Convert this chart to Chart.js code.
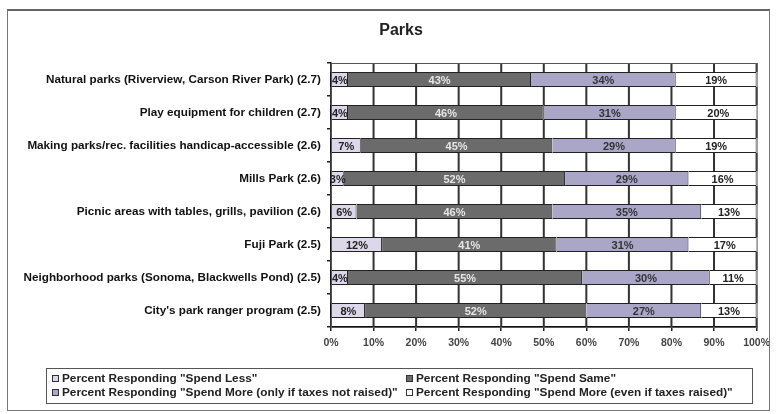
<!DOCTYPE html>
<html>
<head>
<meta charset="utf-8">
<script src="https://cdn.jsdelivr.net/npm/chart.js@4.4.1/dist/chart.umd.min.js"></script>
<style>
    body { margin: 0; background: #fff; }
    #wrap { position: relative; width: 776px; height: 414px; }
    #frame { position: absolute; left: 7px; top: 9px; width: 763px; height: 402px;
        border: 1px solid #777; border-top: 2px solid #666; box-sizing: border-box; }
    #legend { position: absolute; left: 46px; top: 368px; width: 707px; height: 36px;
        border: 1px solid #555; box-sizing: border-box; font: bold 11.8px "Liberation Sans", Arial, sans-serif;
        color: #222; }
    .item { position: absolute; white-space: nowrap; line-height: 14px; }
    .box { display: inline-block; width: 5px; height: 5px; border: 1px solid #333; margin-right: 3px; vertical-align: 0px; }
</style>
</head>
<body>
<div id="wrap">
    <div id="frame"></div>
    <canvas id="parksChart" width="776" height="414"></canvas>
    <div id="legend"></div>
</div>
<script>
// Chart data
const categories = [
    'Natural parks (Riverview, Carson River Park) (2.7)',
    'Play equipment for children (2.7)',
    'Making parks/rec. facilities handicap-accessible (2.6)',
    'Mills Park (2.6)',
    'Picnic areas with tables, grills, pavilion (2.6)',
    'Fuji Park (2.5)',
    'Neighborhood parks (Sonoma, Blackwells Pond) (2.5)',
    "City's park ranger program (2.5)"
];
const spendLess = [4, 4, 7, 3, 6, 12, 4, 8];
const spendSame = [43, 46, 45, 52, 46, 41, 55, 52];
const spendMoreNoTax = [34, 31, 29, 29, 35, 31, 30, 27];
const spendMoreTax = [19, 20, 19, 16, 13, 17, 11, 13];
const tickValues = [0, 10, 20, 30, 40, 50, 60, 70, 80, 90, 100];
const seriesNames = [
    'Percent Responding "Spend Less"',
    'Percent Responding "Spend Same"',
    'Percent Responding "Spend More (only if taxes not raised)"',
    'Percent Responding "Spend More (even if taxes raised)"'
];
const seriesColors = ['#dcd8ea', '#6b6b6b', '#a9a6c8', '#ffffff'];
const labelColors = ['#222', '#e6e6e6', '#333', '#222'];

const font = '"Liberation Sans", Arial, sans-serif';

// draws the title, grid (in the gaps between bars), plot border and the percent labels
const extras = {
    id: 'extras',
    afterDatasetsDraw(chart) {
        const ctx = chart.ctx;
        const area = chart.chartArea;
        const xs = chart.scales.x;
        const bars = chart.getDatasetMeta(0).data;
        ctx.save();

        ctx.strokeStyle = '#333';
        ctx.lineWidth = 2;
        tickValues.forEach(v => {
            const px = xs.getPixelForValue(v);
            let y0 = area.top;
            ctx.beginPath();
            bars.forEach(b => {
                const top = b.y - b.height / 2;
                ctx.moveTo(px, y0);
                ctx.lineTo(px, top);
                y0 = top + b.height;
            });
            ctx.moveTo(px, y0);
            ctx.lineTo(px, area.bottom);
            ctx.stroke();
        });

        ctx.strokeStyle = '#555';
        ctx.lineWidth = 1;
        ctx.strokeRect(area.left + 0.5, area.top + 0.5, area.right - area.left, area.bottom - area.top);

        ctx.font = 'bold 11px ' + font;
        ctx.textAlign = 'center';
        ctx.textBaseline = 'middle';
        chart.data.datasets.forEach((ds, i) => {
            chart.getDatasetMeta(i).data.forEach((bar, j) => {
                ctx.fillStyle = labelColors[i];
                ctx.fillText(ds.data[j] + '%', (bar.x + bar.base) / 2, bar.y + 1);
            });
        });

        ctx.fillStyle = '#222';
        ctx.font = 'bold 16px ' + font;
        ctx.fillText('Parks', 401, 31);
        ctx.restore();
    }
};

new Chart(document.getElementById('parksChart'), {
    type: 'bar',
    data: {
        labels: categories,
        datasets: [spendLess, spendSame, spendMoreNoTax, spendMoreTax].map((values, i) => ({
            label: seriesNames[i],
            data: values,
            backgroundColor: seriesColors[i],
            borderColor: '#222',
            borderWidth: 1,
            barPercentage: 0.46,
            categoryPercentage: 1
        }))
    },
    options: {
        indexAxis: 'y',
        responsive: false,
        animation: false,
        layout: { padding: { top: 63, right: 17, bottom: 57, left: 0 } },
        plugins: {
            legend: { display: false },
            tooltip: { enabled: false }
        },
        scales: {
            x: {
                stacked: true,
                min: 0,
                max: 100,
                afterFit: (scale) => { scale.height = 30; },
                ticks: {
                    stepSize: 10,
                    callback: (v) => v + '%',
                    color: '#444',
                    font: { family: font, size: 10.5, weight: 'bold' },
                    padding: 6
                },
                grid: { drawOnChartArea: false, color: '#222', lineWidth: 1.5, tickLength: 4 },
                border: { color: '#111', width: 1.5 }
            },
            y: {
                stacked: true,
                afterFit: (scale) => { scale.width = 331; },
                ticks: {
                    color: '#111',
                    font: { family: font, size: 11.7, weight: 'bold' },
                    padding: 6
                },
                grid: { drawOnChartArea: false, offset: true, color: '#222', lineWidth: 1.5, tickLength: 4 },
                border: { color: '#111', width: 1.5 }
            }
        }
    },
    plugins: [extras]
});

// Legend in a box, two columns
const legend = document.getElementById('legend');
const spots = [[5, 2], [359, 2], [5, 16], [359, 16]];
seriesNames.forEach((name, i) => {
    const item = document.createElement('div');
    item.className = 'item';
    item.style.left = spots[i][0] + 'px';
    item.style.top = spots[i][1] + 'px';
    item.innerHTML = '<span class="box" style="background:' + seriesColors[i] + '"></span>' + name;
    legend.appendChild(item);
});
</script>
</body>
</html>
